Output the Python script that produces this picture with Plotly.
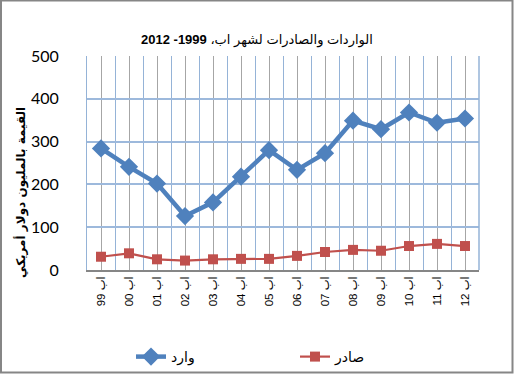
import plotly.graph_objects as go

years = ["99", "00", "01", "02", "03", "04", "05", "06", "07", "08", "09", "10", "11", "12"]
tick_labels = ["اب " + y for y in years]
imports_vals = [284, 241, 202, 126, 158, 218, 280, 234, 273, 349, 329, 368, 344, 354]
exports_vals = [31, 39, 25, 22, 25, 26, 26, 33, 42, 47, 45, 56, 61, 56]
y_ticks = [0, 100, 200, 300, 400, 500]

title_text = "الواردات والصادرات لشهر اب، <b>1999- 2012</b>"
y_title = "<b>القيمة بالمليون دولار أمريكي</b>"
name_imports = "وارد"
name_exports = "صادر"

W, H = 514, 374
L, R, T, B = 87, 35, 56, 104
pw, ph = W - L - R, H - T - B

def px_x(p):
    return (p - L) / pw

def px_y(p):
    return (H - B - p) / ph

idx = list(range(len(years)))

fig = go.Figure()
fig.add_trace(go.Scatter(
    x=idx, y=imports_vals, name=name_imports, mode="lines+markers",
    line=dict(color="#4F81BD", width=4.5),
    marker=dict(symbol="diamond", size=14, color="#4F81BD"),
))
fig.add_trace(go.Scatter(
    x=idx, y=exports_vals, name=name_exports, mode="lines+markers",
    line=dict(color="#C0504D", width=2.2),
    marker=dict(symbol="square", size=10, color="#C0504D"),
))

fig.update_layout(
    width=W, height=H,
    margin=dict(l=L, r=R, t=T, b=B, autoexpand=False),
    paper_bgcolor="white", plot_bgcolor="white",
    font=dict(family="Liberation Sans, DejaVu Sans, Arial", color="black"),
    showlegend=True,
    legend=dict(
        orientation="h", x=px_x(131), y=px_y(341), xanchor="left", yanchor="top",
        font=dict(size=14, family="DejaVu Sans, Liberation Sans"),
        entrywidth=119, entrywidthmode="pixels",
        bgcolor="rgba(0,0,0,0)",
    ),
    xaxis=dict(
        range=[-0.5, len(years) - 0.5],
        tickmode="array", tickvals=idx, ticktext=tick_labels,
        tickangle=-90,
        tickfont=dict(size=11.5, family="Liberation Sans, DejaVu Sans"),
        showgrid=True, gridcolor="#A6A6A6", gridwidth=1,
        minor=dict(tickmode="linear", tick0=0.5, dtick=1, showgrid=True,
                   gridcolor="#95B3D7", gridwidth=1),
        showline=True, linecolor="#868686", linewidth=1.5,
        ticks="", zeroline=False, fixedrange=True,
    ),
    yaxis=dict(
        range=[0, 500], tickmode="array", tickvals=y_ticks,
        tickfont=dict(size=16, family="Lato, Open Sans"),
        showgrid=True, gridcolor="#9DB9DC", gridwidth=1.5,
        showline=True, linecolor="#95B3D7", linewidth=1,
        zeroline=False, ticks="", ticklabelstandoff=24,
        fixedrange=True,
    ),
    shapes=[
        dict(type="rect", xref="paper", yref="paper",
             x0=px_x(1), x1=px_x(512.5), y0=px_y(372.5), y1=px_y(0.5),
             line=dict(color="#868686", width=2), fillcolor="rgba(0,0,0,0)",
             layer="above"),
        dict(type="line", xref="paper", yref="paper",
             x0=1, x1=1, y0=0, y1=1,
             line=dict(color="#95B3D7", width=1.5)),
    ],
    annotations=[
        dict(text=title_text, xref="paper", yref="paper",
             x=px_x(257), y=px_y(40), xanchor="center", yanchor="middle",
             showarrow=False, font=dict(size=13, family="Liberation Sans, DejaVu Sans")),
        dict(text=y_title, xref="paper", yref="paper",
             x=px_x(21), y=px_y(193), xanchor="center", yanchor="middle",
             textangle=-90, showarrow=False,
             font=dict(size=12, family="DejaVu Sans, Liberation Sans")),
    ],
)

fig.write_html(
    "out.html",
    config={"displayModeBar": False},
    post_script="document.body.style.margin='0';document.body.style.padding='0';",
)
